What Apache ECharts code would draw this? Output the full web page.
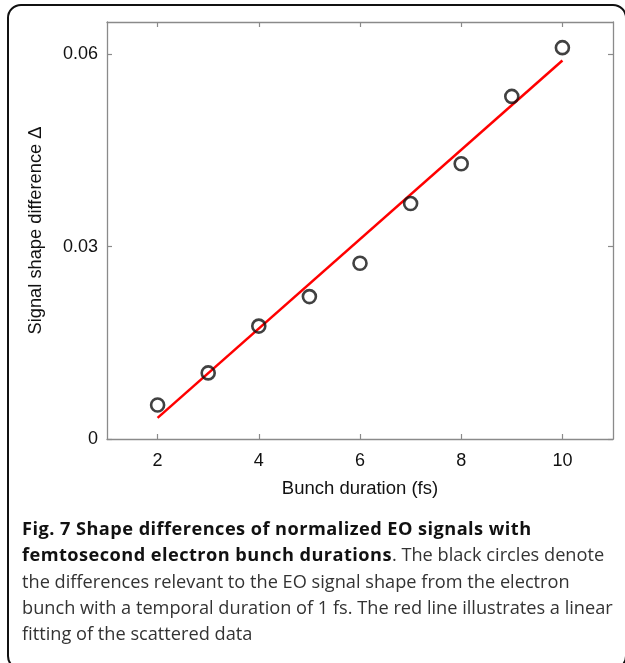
<!DOCTYPE html>
<html>
<head>
<meta charset="utf-8">
<script src="https://cdn.jsdelivr.net/npm/echarts@6/dist/echarts.min.js"></script>
<style>
  html, body { margin: 0; padding: 0; background: #fff; }
  #wrap { position: relative; width: 625px; height: 663px; overflow: hidden; }
  #frame { position: absolute; left: 7px; top: 4px; width: 616px; height: 662px;
           border: 2.5px solid #111; border-radius: 14px; box-sizing: content-box; }
  #chart { position: absolute; left: 0; top: 0; width: 625px; height: 663px; }
  #caption { position: absolute; left: 22px; top: 515px; width: 600px;
             font-family: "Open Sans", "Noto Sans", sans-serif; font-size: 18.2px;
             line-height: 26.3px; color: #333; white-space: nowrap; letter-spacing: 0px; }
  #caption b { color: #111; letter-spacing: 0.45px; }
</style>
</head>
<body>
<div id="wrap">
  <div id="frame"></div>
  <div id="chart"></div>
  <div id="caption">
    <b>Fig. 7 Shape differences of normalized EO signals with</b><br>
    <b>femtosecond electron bunch durations</b>. The black circles denote<br>
    the differences relevant to the EO signal shape from the electron<br>
    bunch with a temporal duration of 1 fs. The red line illustrates a linear<br>
    fitting of the scattered data
  </div>
</div>
<script>
const durations = [2, 3, 4, 5, 6, 7, 8, 9, 10];
const shapeDiff = [0.0053, 0.0103, 0.0176, 0.0222, 0.0274, 0.0367, 0.0429, 0.0534, 0.0610];
const fitX = [2, 10];
const fitY = [0.0033, 0.0590];
const xTicks = [2, 4, 6, 8, 10];
const yTicks = [0, 0.03, 0.06];

const axisGray = '#8a8a8a';
const font = '"Liberation Sans", Arial, sans-serif';

const chart = echarts.init(document.getElementById('chart'), null, { renderer: 'canvas' });

function xAxisCfg(pos, showLabels) {
  return {
    type: 'value', position: pos, min: 1, max: 11,
    name: showLabels ? 'Bunch duration (fs)' : '',
    nameLocation: 'middle', nameGap: 40,
    nameTextStyle: { fontFamily: font, fontSize: 18.5, color: '#111' },
    axisLine: { show: true, onZero: false, lineStyle: { color: axisGray, width: 1.3 } },
    axisTick: { show: true, inside: true, length: 5, customValues: xTicks, lineStyle: { color: axisGray, width: 1.2 } },
    axisLabel: { show: showLabels, customValues: xTicks, margin: 13, fontFamily: font, fontSize: 18, color: '#111' },
    splitLine: { show: false }
  };
}
function yAxisCfg(pos, showLabels) {
  return {
    type: 'value', position: pos, min: 0, max: 0.065,
    name: showLabels ? 'Signal shape difference \u0394' : '',
    nameLocation: 'middle', nameGap: 62,
    nameTextStyle: { fontFamily: font, fontSize: 18.3, color: '#111' },
    axisLine: { show: true, onZero: false, lineStyle: { color: axisGray, width: 1.3 } },
    axisTick: { show: true, inside: true, length: 5, customValues: yTicks, lineStyle: { color: axisGray, width: 1.2 } },
    axisLabel: { show: showLabels, customValues: yTicks, margin: 9, fontFamily: font, fontSize: 18, color: '#111',
      formatter: v => (v === 0 ? '0' : v.toFixed(2)) },
    splitLine: { show: false }
  };
}

chart.setOption({
  animation: false,
  backgroundColor: 'transparent',
  grid: { left: 107, top: 22, right: 12, bottom: 224, containLabel: false },
  xAxis: [xAxisCfg('bottom', true), xAxisCfg('top', false)],
  yAxis: [yAxisCfg('left', true), yAxisCfg('right', false)],
  series: [
    {
      type: 'line', xAxisIndex: 0, yAxisIndex: 0,
      data: fitX.map((x, i) => [x, fitY[i]]),
      showSymbol: false, symbol: 'none',
      lineStyle: { color: '#ff0000', width: 2.5 }, z: 2
    },
    {
      type: 'scatter', xAxisIndex: 0, yAxisIndex: 0,
      data: durations.map((x, i) => [x, shapeDiff[i]]),
      symbol: 'circle', symbolSize: 13,
      itemStyle: { color: 'rgba(255,255,255,0)', borderColor: '#111', borderWidth: 2.6 }, z: 3
    }
  ]
});
</script>
</body>
</html>
